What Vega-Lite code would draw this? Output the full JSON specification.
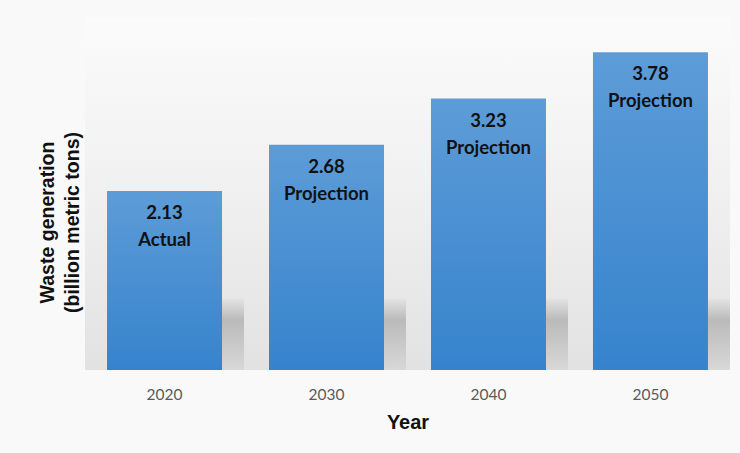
{
  "$schema": "https://vega.github.io/schema/vega-lite/v6.json",
  "autosize": "none",
  "width": 645,
  "height": 353,
  "padding": {"left": 85, "top": 17, "right": 10, "bottom": 83},
  "background": "#f9f9f9",
  "config": {
    "view": {
      "stroke": null,
      "fill": {
        "gradient": "linear",
        "x1": 0, "y1": 0, "x2": 0, "y2": 1,
        "stops": [
          {"offset": 0, "color": "#fbfbfb"},
          {"offset": 0.5, "color": "#f0f0f0"},
          {"offset": 1, "color": "#e2e2e2"}
        ]
      }
    },
    "font": "Lato"
  },
  "data": {
    "values": [
      {"year": "2020", "waste": 2.13, "label": "2.13\nActual"},
      {"year": "2030", "waste": 2.68, "label": "2.68\nProjection"},
      {"year": "2040", "waste": 3.23, "label": "3.23\nProjection"},
      {"year": "2050", "waste": 3.78, "label": "3.78\nProjection"}
    ]
  },
  "encoding": {
    "x": {
      "field": "year",
      "type": "ordinal",
      "scale": {"paddingInner": 0.29, "paddingOuter": 0.136},
      "axis": {
        "title": "Year",
        "titleFont": "Arial",
        "titleFontSize": 20,
        "titleFontWeight": "bold",
        "titleColor": "#111111",
        "titlePadding": 10,
        "labelAngle": 0,
        "labelFont": "Lato",
        "labelFontSize": 15.5,
        "labelColor": "#595959",
        "labelPadding": 17,
        "domain": false,
        "ticks": false
      }
    }
  },
  "layer": [
    {
      "mark": {
        "type": "bar",
        "xOffset": 22,
        "color": {
          "gradient": "linear",
          "x1": 0, "y1": 0, "x2": 0, "y2": 1,
          "stops": [
            {"offset": 0, "color": "#e4e4e4"},
            {"offset": 0.3, "color": "#bababa"},
            {"offset": 1, "color": "#d8d8d8"}
          ]
        }
      },
      "encoding": {
        "y": {"datum": 0.85, "type": "quantitative", "scale": {"domain": [0, 4.2], "nice": false, "zero": true}},
        "y2": {"datum": 0}
      }
    },
    {
      "mark": {
        "type": "bar",
        "color": {
          "gradient": "linear",
          "x1": 0, "y1": 0, "x2": 0, "y2": 1,
          "stops": [
            {"offset": 0, "color": "#5d9cd7"},
            {"offset": 1, "color": "#3683cd"}
          ]
        }
      },
      "encoding": {
        "y": {
          "field": "waste",
          "type": "quantitative",
          "scale": {"domain": [0, 4.2], "nice": false},
          "axis": {
            "title": ["Waste generation", "(billion metric tons)"],
            "titleFont": "Arial",
            "titleFontSize": 19.5,
            "titleFontWeight": "bold",
            "titleColor": "#111111",
            "titleX": -28,
            "titleY": 205,
            "titleLineHeight": 25,
            "labels": false,
            "ticks": false,
            "domain": false,
            "grid": false
          }
        }
      }
    },
    {
      "mark": {
        "type": "text",
        "baseline": "top",
        "align": "center",
        "dy": 13,
        "lineBreak": "\n",
        "lineHeight": 27,
        "font": "Lato",
        "fontSize": 18.5,
        "fontWeight": "bold",
        "color": "#111111"
      },
      "encoding": {
        "y": {"field": "waste", "type": "quantitative"},
        "text": {"field": "label"}
      }
    }
  ]
}
